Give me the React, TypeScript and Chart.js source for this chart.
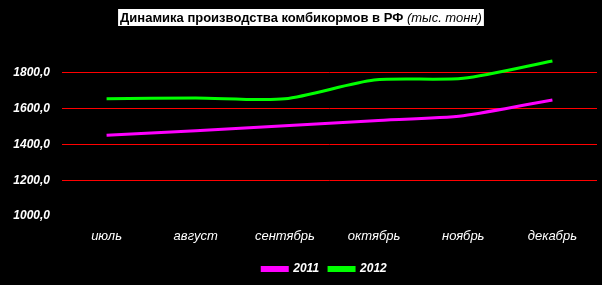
import { useEffect, useRef } from "react";
import { Chart, registerables } from "chart.js";
Chart.register(...registerables);

const months = ["июль", "август", "сентябрь", "октябрь", "ноябрь", "декабрь"];
const series2011 = [1451, 1476, 1505, 1533, 1561, 1649];
const series2012 = [1655, 1660, 1655, 1760, 1770, 1867];
const yTicks = [1000, 1200, 1400, 1600, 1800];
const seriesNames = ["2011", "2012"];
const titleMain = "Динамика производства комбикормов в РФ ";
const titleUnit = "(тыс. тонн)";

const FONT = '"Liberation Sans", Arial, sans-serif';

const bgPlugin = {
  id: "bg",
  beforeDraw(chart: any) {
    const ctx = chart.ctx;
    ctx.save();
    ctx.fillStyle = "#000";
    ctx.fillRect(0, 0, chart.width, chart.height);
    ctx.restore();
  },
};

const legendShift = {
  id: "legendShift",
  afterLayout(chart: any) {
    if (chart.legend) {
      chart.legend.left += 26;
      chart.legend.right += 26;
    }
  },
};

const titlePlugin = {
  id: "customTitle",
  afterDraw(chart: any) {
    const ctx = chart.ctx;
    ctx.save();
    const f1 = `bold 13px ${FONT}`;
    const f2 = `italic 13px ${FONT}`;
    ctx.font = f1;
    const w1 = ctx.measureText(titleMain).width;
    ctx.font = f2;
    const w2 = ctx.measureText(titleUnit).width;
    const total = w1 + w2;
    const x0 = (chart.width - total) / 2;
    ctx.fillStyle = "#fff";
    ctx.fillRect(x0 - 2, 9, total + 4, 17);
    ctx.fillStyle = "#000";
    ctx.textBaseline = "middle";
    ctx.font = f1;
    ctx.fillText(titleMain, x0, 18);
    ctx.font = f2;
    ctx.fillText(titleUnit, x0 + w1, 18);
    ctx.restore();
  },
};

export default function App() {
  const ref = useRef<HTMLCanvasElement>(null);
  useEffect(() => {
    if (!ref.current) return;
    const chart = new Chart(ref.current, {
      type: "line",
      data: {
        labels: months,
        datasets: [
          {
            label: seriesNames[0],
            data: series2011,
            borderColor: "#ff00ff",
            backgroundColor: "#ff00ff",
            borderWidth: 3,
            tension: 0.25,
            pointRadius: 0,
          },
          {
            label: seriesNames[1],
            data: series2012,
            borderColor: "#00ff00",
            backgroundColor: "#00ff00",
            borderWidth: 3,
            tension: 0.25,
            pointRadius: 0,
          },
        ],
      },
      options: {
        responsive: false,
        animation: false,
        layout: { padding: { top: 55, right: 5, left: 0, bottom: 0 } },
        plugins: {
          title: { display: false },
          tooltip: { enabled: false },
          legend: {
            position: "bottom",
            labels: {
              color: "#fff",
              boxWidth: 25,
              boxHeight: 3,
              padding: 10,
              font: { family: FONT, size: 12, weight: "bold", style: "italic" },
            },
          },
        },
        scales: {
          x: {
            offset: true,
            grid: { display: false, drawTicks: false },
            border: { display: false },
            ticks: {
              color: "#fff",
              padding: 13,
              font: { family: FONT, size: 13, style: "italic" },
              maxRotation: 0,
            },
            afterFit(axis: any) {
              axis.height = 37;
            },
          },
          y: {
            min: 1000,
            max: 1900,
            afterBuildTicks(axis: any) {
              axis.ticks = yTicks.map((v) => ({ value: v }));
            },
            grid: {
              drawTicks: false,
              color: (c: any) => (c.tick && c.tick.value === 1000 ? "rgba(0,0,0,0)" : "#ff0000"),
              lineWidth: 1,
            },
            border: { display: false },
            ticks: {
              color: "#fff",
              padding: 12,
              font: { family: FONT, size: 12, weight: "bold", style: "italic" },
              callback: (v: any) => Number(v).toFixed(1).replace(".", ","),
            },
            afterFit(axis: any) {
              axis.width = 62;
            },
          },
        },
      },
      plugins: [bgPlugin, legendShift, titlePlugin],
    });
    return () => chart.destroy();
  }, []);
  return (
    <div style={{ position: "fixed", left: 0, top: 0, width: 602, height: 285, background: "#000" }}>
      <canvas ref={ref} width={602} height={285} />
    </div>
  );
}
